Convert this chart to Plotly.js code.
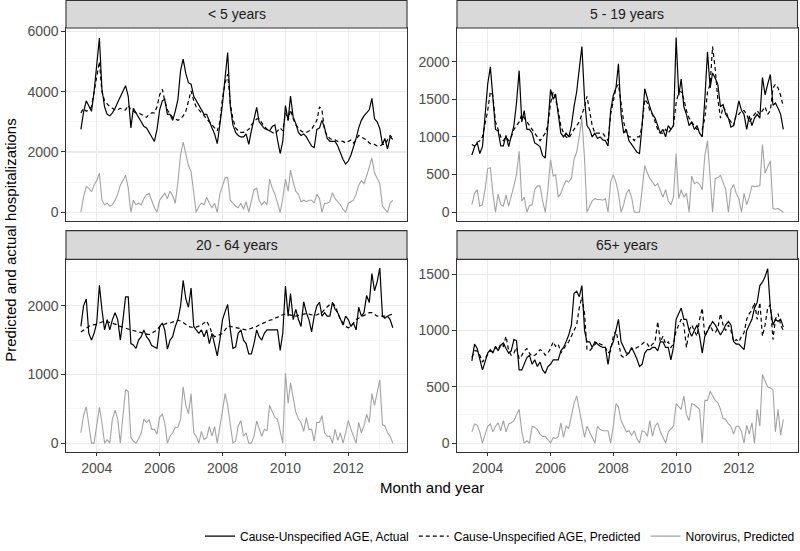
<!DOCTYPE html>
<html>
<head>
<meta charset="utf-8">
<script src="https://cdn.plot.ly/plotly-3.0.1.min.js"></script>
<style>html,body{margin:0;padding:0;background:#fff;}#chart{width:800px;height:551px;}</style>
</head>
<body>
<div id="chart"></div>
<script>
// Monthly categories: July 2003 .. June 2013
const startYear = 2003, startMonth = 7, nMonths = 120;
const months = [];
for (let i = 0; i < nMonths; i++) {
  const m0 = startMonth - 1 + i;
  const y = startYear + Math.floor(m0 / 12);
  const m = (m0 % 12) + 1;
  months.push(y + '-' + String(m).padStart(2, '0') + '-01');
}

const panelTitles = ['< 5 years', '5 - 19 years', '20 - 64 years', '65+ years'];
const seriesNames = ['Cause-Unspecified AGE, Actual', 'Cause-Unspecified AGE, Predicted', 'Norovirus, Predicted'];
const xTickYears = ['2004', '2006', '2008', '2010', '2012'];

// ---- < 5 years ----
const actual_lt5 = [2750,3320,3700,3540,3350,4000,
  4900,5780,4100,3500,3250,3200,3300,3450,3650,3850,4050,4200,
  3850,2800,3450,3300,3150,3000,2850,2800,2650,2500,2350,2750,
  3400,3700,3750,3250,3250,3050,3350,3750,4700,5080,4600,4300,
  4250,3850,3700,3550,3400,3250,3250,3000,2800,2600,2280,2900,
  3600,4500,5300,3500,2900,2650,2550,2500,2500,2600,2250,2700,
  3100,3480,3000,2900,2780,2750,2700,2850,2900,2400,1950,2350,
  3540,3050,3860,3150,2950,2650,2550,2600,2500,2350,2200,2150,
  2750,2800,3050,2800,2450,2350,2350,2350,2200,1950,1750,1600,
  1700,1900,2150,2450,2800,3050,3200,3300,3400,3780,3100,3000,
  2780,2250,2450,2100,2500,2420];
const pred_lt5 = [3300,3450,3350,3400,3500,4000,
  4500,5000,4000,3700,3600,3500,3450,3400,3400,3450,3400,3400,
  3550,3400,3350,3300,3300,3250,3200,3150,3250,3300,3300,3500,
  3900,4080,3700,3400,3250,3150,3100,3050,3100,3200,3350,3700,
  4030,3700,3500,3400,3300,3200,3100,3000,2900,2800,2700,3000,
  3800,4300,4580,3600,3100,2800,2700,2650,2650,2700,2750,2900,
  3000,3100,3100,2950,2850,2750,2700,2650,2600,2700,2800,2700,
  3300,3050,3400,3100,2900,2800,2700,2650,2650,2700,2750,2900,
  3050,3500,3400,2700,2550,2450,2400,2400,2350,2350,2350,2300,
  2350,2400,2300,2400,2550,2500,2450,2400,2300,2250,2250,2200,
  2200,2250,2250,2400,2550,2450];
const noro_lt5 = [0,500,850,800,680,900,
  1050,1300,400,250,300,200,250,400,600,900,1050,1230,
  800,0,400,250,300,250,450,580,620,400,150,0,
  400,520,630,450,700,550,300,1000,1900,2330,1900,1550,
  1350,600,0,200,300,250,500,300,150,300,0,600,
  900,1150,1150,400,300,200,150,300,100,350,0,400,
  750,800,400,250,350,250,1100,800,600,300,0,450,
  1100,700,1400,1000,700,600,350,400,350,400,400,300,
  600,450,0,300,300,350,650,450,350,250,100,0,
  300,350,400,600,900,1050,950,1200,1500,1800,1300,1100,
  950,200,100,0,300,400];

// ---- 5 - 19 years ----
const actual_5_19 = [760,870,920,780,870,1300,
  1700,1930,1500,1100,1080,880,880,1020,870,1000,1150,1450,
  1880,1200,1350,1100,1100,1050,920,900,870,750,720,1150,
  1630,1500,1570,1300,1050,1000,1050,1000,1150,1400,1600,1900,
  2200,1500,1150,1100,1000,1050,980,1000,960,950,880,1350,
  1550,1650,1970,1300,1050,1100,950,900,850,800,780,1150,
  1640,1500,1400,1300,1250,1150,1050,1100,1000,1150,1100,1150,
  2320,1550,1770,1400,1300,1150,1200,1100,1150,1050,1000,1500,
  2130,1650,1850,1780,1700,1400,1430,1300,1250,1130,1150,1300,
  1480,1350,1300,1100,1280,1150,1250,1300,1250,1790,1560,1700,
  1830,1420,1450,1380,1300,1100];
const pred_5_19 = [900,880,930,950,1000,1150,
  1350,1600,1550,1200,1100,1000,950,1000,950,1000,1100,1150,
  1200,1300,1250,1200,1150,1100,1050,1000,950,1000,1050,1150,
  1450,1600,1500,1350,1150,1050,1000,980,1050,1100,1150,1200,
  1300,1400,1540,1350,1150,1050,1050,1050,1050,1000,950,1300,
  1500,1650,1700,1450,1200,1050,1000,1000,950,1000,1000,1150,
  1500,1450,1350,1300,1200,1100,1050,1050,1100,1050,1100,1150,
  1450,1600,1600,1500,1350,1250,1200,1150,1100,1100,1100,1250,
  1600,1700,2200,1900,1500,1250,1400,1350,1250,1200,1150,1300,
  1300,1350,1350,1300,1200,1250,1300,1350,1300,1350,1400,1300,
  1350,1650,1700,1650,1550,1400];
const noro_5_19 = [100,250,300,80,100,300,
  580,590,250,0,240,100,80,230,80,200,350,500,
  810,150,200,0,90,100,300,350,350,150,0,300,
  700,480,500,200,250,350,420,400,450,700,800,1000,
  1250,700,0,80,150,180,170,170,160,180,0,400,
  500,400,250,0,100,250,300,200,0,0,0,300,
  620,520,450,400,350,380,300,200,300,150,100,200,
  780,180,300,200,250,0,480,380,400,370,300,750,
  950,400,0,450,460,490,380,300,0,300,370,250,
  180,0,250,100,200,350,340,350,350,900,520,600,
  680,50,40,50,20,0];

// ---- 20 - 64 years ----
const actual_20_64 = [1700,2000,2100,1600,1500,1600,
  1750,2300,1950,1650,1800,1650,1800,1900,1800,1500,1800,2130,
  2130,1450,1430,1380,1500,1550,1650,1550,1500,1420,1400,1380,
  1700,1750,1650,1370,1500,1550,1700,1800,2000,2370,2100,1980,
  2260,1700,1650,1600,1650,1550,1650,1450,1600,1450,1270,1500,
  1800,1920,2020,1650,1380,1400,1600,1650,1500,1450,1300,1300,
  1450,1650,1550,1500,1600,1650,1650,1650,1650,1650,1350,1600,
  2290,1850,2180,1800,1950,1800,1700,2060,1900,1800,1620,1850,
  2000,2050,1850,1900,1850,1850,2050,1950,1900,1800,1720,1850,
  1800,1700,1750,1650,1980,1850,1900,2150,2050,2470,2220,2350,
  2550,1850,1820,1850,1800,1680];
const pred_20_64 = [1620,1650,1680,1700,1720,1720,
  1730,1750,1760,1780,1770,1760,1750,1730,1720,1700,1690,1680,
  1660,1650,1640,1630,1620,1610,1600,1590,1580,1600,1620,1650,
  1700,1720,1740,1750,1750,1760,1770,1790,1780,1760,1730,1700,
  1690,1680,1690,1700,1720,1750,1780,1700,1600,1550,1560,1580,
  1600,1650,1700,1700,1690,1680,1670,1660,1650,1650,1660,1670,
  1680,1700,1720,1740,1760,1780,1790,1800,1820,1840,1860,1870,
  1880,1870,1860,1850,1850,1860,1870,1880,1890,1880,1870,1860,
  1870,1880,1900,1950,1990,2020,2040,2000,1900,1800,1750,1700,
  1680,1700,1750,1800,1820,1840,1860,1880,1900,1900,1870,1850,
  1850,1850,1840,1850,1870,1880];
const noro_20_64 = [150,400,530,250,0,0,
  250,520,300,0,50,0,350,480,350,0,400,780,
  750,80,30,0,60,150,350,300,340,200,200,130,
  380,420,300,0,100,150,230,230,350,820,550,430,
  720,150,100,0,170,50,80,240,100,240,0,250,
  500,720,550,250,0,30,250,330,100,150,0,0,
  100,320,200,100,200,180,550,450,370,350,150,0,
  1020,580,880,650,450,350,300,170,370,200,200,30,
  300,300,400,150,100,100,0,200,40,150,0,150,
  330,200,100,0,300,150,250,420,300,720,550,750,
  920,270,250,150,100,0];

// ---- 65+ years ----
const actual_65 = [730,880,840,750,650,720,
  800,830,800,860,820,870,890,840,800,820,920,910,
  650,650,700,760,780,700,740,680,720,650,620,680,
  700,740,740,740,820,850,900,960,1050,1330,1350,1300,
  1400,1000,900,900,850,900,880,860,850,850,700,850,
  900,1000,1100,900,850,800,800,850,800,750,680,700,
  800,830,830,850,850,820,900,900,850,850,740,850,
  1100,1150,1200,1100,1100,1000,950,1000,1050,950,800,950,
  1000,1050,1080,1050,1000,960,1000,1050,1080,1050,900,880,
  880,850,830,1000,1050,1100,1200,1250,1400,1430,1480,1550,
  1200,1050,1100,1080,1100,1030];
const pred_65 = [760,820,820,780,720,750,
  780,820,810,850,830,880,860,950,820,780,800,850,
  750,780,820,840,800,770,780,800,830,820,780,800,
  840,900,860,880,800,840,870,900,950,1000,1050,1200,
  1300,1150,830,820,850,880,900,880,870,850,800,820,
  950,1000,880,780,760,780,800,840,830,850,860,880,
  900,880,850,880,900,1080,900,950,880,900,850,880,
  1000,1050,1100,1050,850,1000,1050,1000,950,1100,1200,950,
  1000,1050,1000,980,1020,1150,1050,1000,1050,1000,900,920,
  900,950,980,1100,1150,1180,1250,1100,1250,950,1050,1200,
  1230,920,1100,1150,1050,1000];
const noro_65 = [100,170,160,100,0,80,
  150,170,100,150,180,110,200,100,170,180,200,250,
  300,100,0,20,0,150,140,120,80,60,60,30,
  0,50,40,60,180,50,150,130,250,350,420,300,
  200,50,150,100,50,0,150,120,110,110,110,0,
  150,350,320,200,150,100,110,70,110,40,0,110,
  100,60,200,60,150,180,100,50,0,100,130,150,
  350,320,300,420,250,200,350,340,320,300,0,380,
  380,460,420,380,360,300,220,210,170,150,80,150,
  150,100,0,160,80,180,0,300,150,610,550,500,
  490,470,100,300,70,210];

const panels = [
  {a: actual_lt5, p: pred_lt5, n: noro_lt5},
  {a: actual_5_19, p: pred_5_19, n: noro_5_19},
  {a: actual_20_64, p: pred_20_64, n: noro_20_64},
  {a: actual_65, p: pred_65, n: noro_65}
];

const W = 800, H = 551;
const px = v => v / W, py = v => (H - v) / H;
const colDom = [[px(66), px(407)], [px(457), px(797.5)]];
const rowDom = [[py(223), py(28.3)], [py(456), py(261.7)]];
const stripTop = [0.5, 232.7];
const stripBot = [28.3, 261.7];

const yCfg = [
  {range: [-290, 6115], dtick: 2000, minor: 1000},
  {range: [-116, 2446], dtick: 500, minor: 250},
  {range: [-128, 2678], dtick: 1000, minor: 500},
  {range: [-78, 1633], dtick: 500, minor: 250}
];

const traces = [];
const layout = {
  width: W, height: H,
  margin: {l: 0, r: 0, t: 0, b: 0},
  paper_bgcolor: '#ffffff', plot_bgcolor: '#ffffff',
  font: {family: 'Liberation Sans, Arial, sans-serif', color: '#4d4d4d'},
  showlegend: true,
  legend: {
    orientation: 'h', x: 0.625, xanchor: 'center', y: py(541), yanchor: 'middle',
    font: {size: 12, color: '#000000'}, bgcolor: 'rgba(0,0,0,0)',
    itemwidth: 30, tracegroupgap: 0
  },
  shapes: [], annotations: []
};

panels.forEach((pd, k) => {
  const col = k % 2, row = Math.floor(k / 2);
  const sx = k === 0 ? '' : String(k + 1);
  const xa = 'x' + sx, ya = 'y' + sx;
  const show = k === 0;
  traces.push({x: months, y: pd.a, xaxis: xa, yaxis: ya, type: 'scatter', mode: 'lines',
    name: seriesNames[0], legendgroup: 'a', showlegend: show,
    line: {color: '#000000', width: 1.2}});
  traces.push({x: months, y: pd.p, xaxis: xa, yaxis: ya, type: 'scatter', mode: 'lines',
    name: seriesNames[1], legendgroup: 'p', showlegend: show,
    line: {color: '#000000', width: 1.2, dash: '4px,3px'}});
  traces.push({x: months, y: pd.n, xaxis: xa, yaxis: ya, type: 'scatter', mode: 'lines',
    name: seriesNames[2], legendgroup: 'n', showlegend: show,
    line: {color: '#a3a3a3', width: 1.1}});

  const bottom = row === 1;
  layout['xaxis' + sx] = {
    domain: colDom[col], anchor: ya, type: 'date',
    range: ['2003-01-09', '2013-11-13'],
    tickvals: xTickYears.map(y => y + '-01-01'), ticktext: xTickYears,
    showticklabels: bottom, ticks: bottom ? 'outside' : '', ticklen: 3.5, tickcolor: '#333333', tickwidth: 1,
    tickfont: {size: 14, color: '#4d4d4d'},
    showgrid: true, gridcolor: '#ebebeb', gridwidth: 1.1,
    minor: {tickvals: ['2003-01-01','2005-01-01','2007-01-01','2009-01-01','2011-01-01','2013-01-01'],
            showgrid: true, gridcolor: '#f2f2f2', gridwidth: 0.6, ticks: ''},
    showline: true, mirror: true, linecolor: '#333333', linewidth: 1.1,
    zeroline: false, fixedrange: true
  };
  const yc = yCfg[k];
  layout['yaxis' + sx] = {
    domain: rowDom[row], anchor: xa, range: yc.range,
    tick0: 0, dtick: yc.dtick,
    ticks: 'outside', ticklen: 3.5, tickcolor: '#333333', tickwidth: 1,
    tickfont: {size: 14, color: '#4d4d4d'},
    showgrid: true, gridcolor: '#ebebeb', gridwidth: 1.1,
    minor: {tick0: 0, dtick: yc.minor, showgrid: true, gridcolor: '#f2f2f2', gridwidth: 0.6, ticks: ''},
    showline: true, mirror: true, linecolor: '#333333', linewidth: 1.1,
    zeroline: false, fixedrange: true
  };

  // facet strip
  layout.shapes.push({type: 'rect', xref: 'paper', yref: 'paper',
    x0: colDom[col][0], x1: colDom[col][1], y0: py(stripBot[row]), y1: py(stripTop[row]),
    fillcolor: '#d9d9d9', line: {color: '#333333', width: 1.1}, layer: 'above'});
  layout.annotations.push({xref: 'paper', yref: 'paper',
    x: (colDom[col][0] + colDom[col][1]) / 2, y: (py(stripBot[row]) + py(stripTop[row])) / 2,
    xanchor: 'center', yanchor: 'middle', showarrow: false, text: panelTitles[k],
    font: {size: 14, color: '#1a1a1a'}});
});

layout.annotations.push({xref: 'paper', yref: 'paper', x: px(11), y: py(242),
  xanchor: 'center', yanchor: 'middle', showarrow: false, textangle: -90,
  text: 'Predicted and actual hospitalizations', font: {size: 15, color: '#000000'}});
layout.annotations.push({xref: 'paper', yref: 'paper', x: px(432), y: py(492),
  xanchor: 'center', yanchor: 'middle', showarrow: false,
  text: 'Month and year', font: {size: 15, color: '#000000'}});

Plotly.newPlot('chart', traces, layout, {staticPlot: true, displayModeBar: false});
</script>
</body>
</html>
